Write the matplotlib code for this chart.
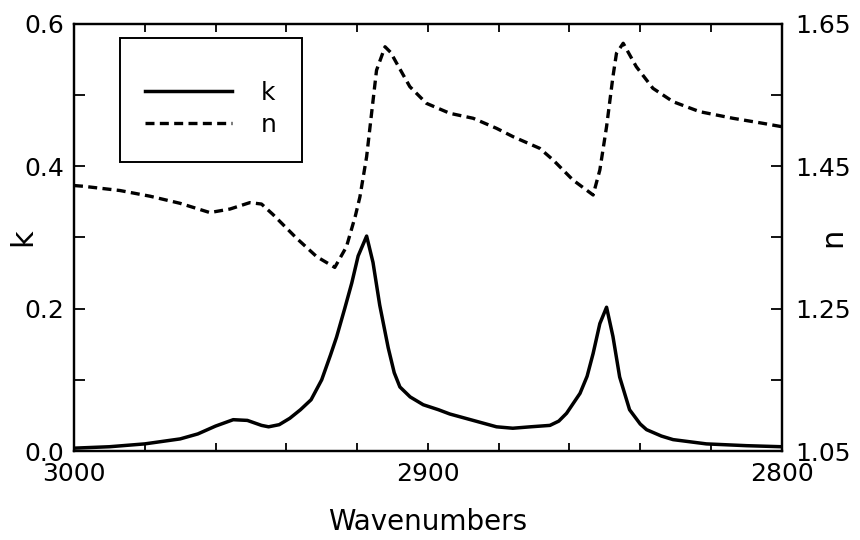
import matplotlib
matplotlib.use("Agg")
import matplotlib.pyplot as plt
from matplotlib.ticker import MultipleLocator, FixedLocator, FormatStrFormatter

# Extinction coefficient k versus wavenumber (cm^-1)
k_wavenumber = [3000, 2990, 2980, 2970, 2965, 2960, 2955, 2951, 2947, 2945, 2942,
                2939, 2936, 2933, 2930, 2927.5, 2925.8, 2923.5, 2921.5, 2919.7,
                2917.3, 2915.5, 2913.6, 2911.2, 2909.5, 2907.9, 2905, 2901.3, 2897,
                2893.8, 2887.2, 2880.6, 2876, 2871, 2865.5, 2863, 2860.8, 2857, 2855,
                2853.3, 2851.4, 2849.5, 2847.7, 2845.8, 2843, 2840, 2838.2, 2834,
                2830.7, 2821.3, 2810, 2800]
k_values = [0.004, 0.006, 0.010, 0.017, 0.024, 0.035, 0.044, 0.043, 0.036, 0.034, 0.037,
            0.046, 0.058, 0.072, 0.100, 0.135, 0.160, 0.200, 0.236, 0.274,
            0.302, 0.265, 0.205, 0.145, 0.110, 0.090, 0.076, 0.065, 0.058,
            0.052, 0.043, 0.034, 0.032, 0.034, 0.036, 0.042, 0.053, 0.081, 0.105,
            0.137, 0.179, 0.202, 0.161, 0.104, 0.058, 0.038, 0.030, 0.021,
            0.016, 0.010, 0.0075, 0.006]

# Refractive index n versus wavenumber (cm^-1)
n_wavenumber = [3000, 2997.4, 2987, 2978.5, 2970, 2961.6, 2955.9, 2950.3, 2947, 2943.7,
                2937.1, 2931.4, 2926.3, 2923, 2920.5, 2919.2, 2917.3, 2915.9, 2914.5,
                2912.1, 2910.5, 2908.8, 2905.1, 2900.4, 2893.8, 2887.2, 2880.6, 2875.9,
                2868.4, 2864.6, 2859, 2853.3, 2851.4, 2849.5, 2847.7, 2846.7, 2844.8,
                2841.1, 2836.4, 2830.7, 2823.2, 2813.8, 2805.3, 2800]
n_values = [1.423, 1.422, 1.416, 1.408, 1.398, 1.385, 1.390, 1.399, 1.397, 1.382,
            1.349, 1.323, 1.308, 1.337, 1.380, 1.407, 1.4635, 1.5245, 1.585,
            1.618, 1.610, 1.5947, 1.562, 1.5385, 1.5245, 1.5175, 1.5034, 1.4916,
            1.4753, 1.4589, 1.4308, 1.4097, 1.4448, 1.5057, 1.5759, 1.6088, 1.6229,
            1.590, 1.5596, 1.5408, 1.5268, 1.5175, 1.5104, 1.5057]

x_ticks = [3000, 2900, 2800]
k_ticks = [0.0, 0.2, 0.4, 0.6]
n_ticks = [1.05, 1.25, 1.45, 1.65]
n_minor_ticks = [1.15, 1.35, 1.55]

plt.rcParams['font.family'] = ['DejaVu Sans']

fig = plt.figure(figsize=(8.6, 5.4), dpi=100)
ax = fig.add_axes([0.086, 0.1648, 0.823, 0.7908])
ax2 = ax.twinx()

line_k, = ax.plot(k_wavenumber, k_values, color='black', lw=2.5)
line_n, = ax2.plot(n_wavenumber, n_values, color='black', lw=2.4)
line_n.set_dashes((2.7, 1.6))

ax.set_xlim(3000, 2800)
ax.set_ylim(0.0, 0.6)
ax2.set_ylim(1.05, 1.65)

for spine in list(ax.spines.values()) + list(ax2.spines.values()):
    spine.set_linewidth(1.6)

ax.xaxis.set_major_locator(FixedLocator(x_ticks))
ax.xaxis.set_minor_locator(MultipleLocator(20))
ax.xaxis.set_major_formatter(FormatStrFormatter('%d'))
ax.yaxis.set_major_locator(FixedLocator(k_ticks))
ax.yaxis.set_minor_locator(MultipleLocator(0.1))
ax.yaxis.set_major_formatter(FormatStrFormatter('%.1f'))
ax2.yaxis.set_major_locator(FixedLocator(n_ticks))
ax2.yaxis.set_minor_locator(FixedLocator(n_minor_ticks))
ax2.yaxis.set_major_formatter(FormatStrFormatter('%.2f'))

ax.tick_params(axis='x', which='both', direction='in', top=True, bottom=True,
               length=6, width=1.3, labelsize=18, pad=8)
ax.tick_params(axis='y', which='both', direction='in', left=True, right=False,
               length=8, width=1.3, labelsize=18, pad=7)
ax2.tick_params(axis='y', which='both', direction='in', right=True, left=False,
                length=8, width=1.3, labelsize=18, pad=10)

ax.set_xlabel('Wavenumbers', fontsize=20, labelpad=16)
ax.set_ylabel('k', fontsize=22)
ax2.set_ylabel('n', fontsize=22, rotation=90)
ax.yaxis.set_label_coords(-0.052, 0.5)
ax2.yaxis.set_label_coords(1.052, 0.5)

leg = ax.legend([line_k, line_n], ['k', 'n'], loc='upper left',
                bbox_to_anchor=(0.065, 0.967), borderaxespad=0,
                fontsize=18, handlelength=3.5, handletextpad=1.15,
                labelspacing=0.32, borderpad=1.0, fancybox=False,
                edgecolor='black', framealpha=1,
                title=' ', title_fontsize=7)
leg.get_frame().set_linewidth(1.4)
leg.remove()
ax2.add_artist(leg)

fig.savefig('out.png', dpi=100)
